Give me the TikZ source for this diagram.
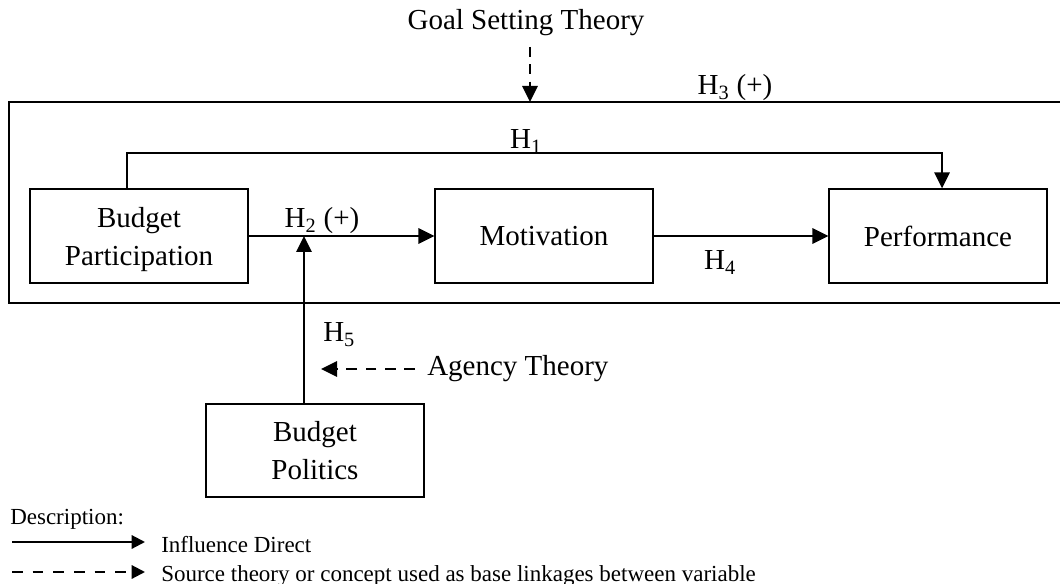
\documentclass[tikz,border=0pt]{standalone}
\usepackage{fontspec}
\setmainfont{Liberation Serif}
\usetikzlibrary{arrows.meta,calc}
\begin{document}
\begin{tikzpicture}[x=0.75pt,y=-0.75pt,
  boxnode/.style={draw,line width=1pt,minimum width=163.5pt,minimum height=70.5pt,align=center,inner sep=0pt,
    font=\fontsize{21.75}{28.5}\selectfont},
  lbl/.style={inner sep=0pt,font=\fontsize{21.75}{26}\selectfont},
  leg/.style={inner sep=0pt,font=\fontsize{17.25}{20}\selectfont,anchor=base west},
  arr/.style={line width=1.6pt,-{Triangle[length=12pt,width=11.5pt]}},
  darr/.style={line width=1.6pt,dash pattern=on 7.5pt off 5.5pt,-{Triangle[length=12pt,width=11.5pt]}},
  larr/.style={line width=1.6pt,-{Triangle[length=10pt,width=10pt]}},
  ldarr/.style={line width=1.6pt,dash pattern=on 8pt off 7.5pt,-{Triangle[length=10pt,width=10pt]}}
]
\useasboundingbox (0,0) rectangle (1060,584);

% outer frame
\draw[line width=1.5pt] (1063,102) -- (9,102) -- (9,303) -- (1063,303);

% boxes
\node[boxnode,text depth=0pt] (bp) at (139,236) {Budget\\Participation};
\node[boxnode] (mot) at (544,236) {Motivation};
\node[boxnode] (perf) at (938,236) {Performance};
\node[boxnode,text depth=0pt,minimum height=69.75pt] (bpol) at (315,450.5) {Budget\\Politics};

% theory labels
\node[lbl,anchor=base] (goal) at (526,30) {Goal Setting Theory};
\coordinate (gs) at (530,47);
\coordinate (gt) at (530,102);
\draw[darr] (gs) -- (gt);

\node[lbl,anchor=base] (h3) at (735,95) {H\textsubscript{3} (+)};

% H1
\draw[arr] ([xshift=-9pt]bp.north) -- ++(0,-35) -| ([xshift=3pt]perf.north);
\node[lbl,anchor=base] (h1) at (526,149) {H\textsubscript{1}};

% H2
\draw[arr] (bp.east) -- (mot.west);
\node[lbl,anchor=base] (h2) at (322,228) {H\textsubscript{2} (+)};

% H4
\draw[arr] (mot.east) -- (perf.west);
\node[lbl,anchor=base] (h4) at (720,270) {H\textsubscript{4}};

% H5
\draw[arr] ([xshift=-8.25pt]bpol.north) -- ([xshift=-8.25pt]bpol.north |- bp.east);
\node[lbl,anchor=base west] (h5) at (323,342) {H\textsubscript{5}};

% Agency theory
\node[lbl,anchor=base west] (agency) at (427,376) {Agency Theory};
\coordinate (as) at (415,369);
\coordinate (at) at (321,369);
\draw[darr,dash pattern=on 8pt off 6.5pt] (as) -- (at);

% legend
\node[leg] (desc) at (10,524) {Description:};
\coordinate (l1s) at (12,542);
\coordinate (l1e) at (145,542);
\draw[larr] (l1s) -- (l1e);
\node[leg] (leg1) at (161,552) {Influence Direct};
\coordinate (l2s) at (12,572);
\coordinate (l2e) at (145,572);
\draw[ldarr] (l2s) -- (l2e);
\node[leg] (leg2) at (161,581) {Source theory or concept used as base linkages between variable};
\end{tikzpicture}
\end{document}
